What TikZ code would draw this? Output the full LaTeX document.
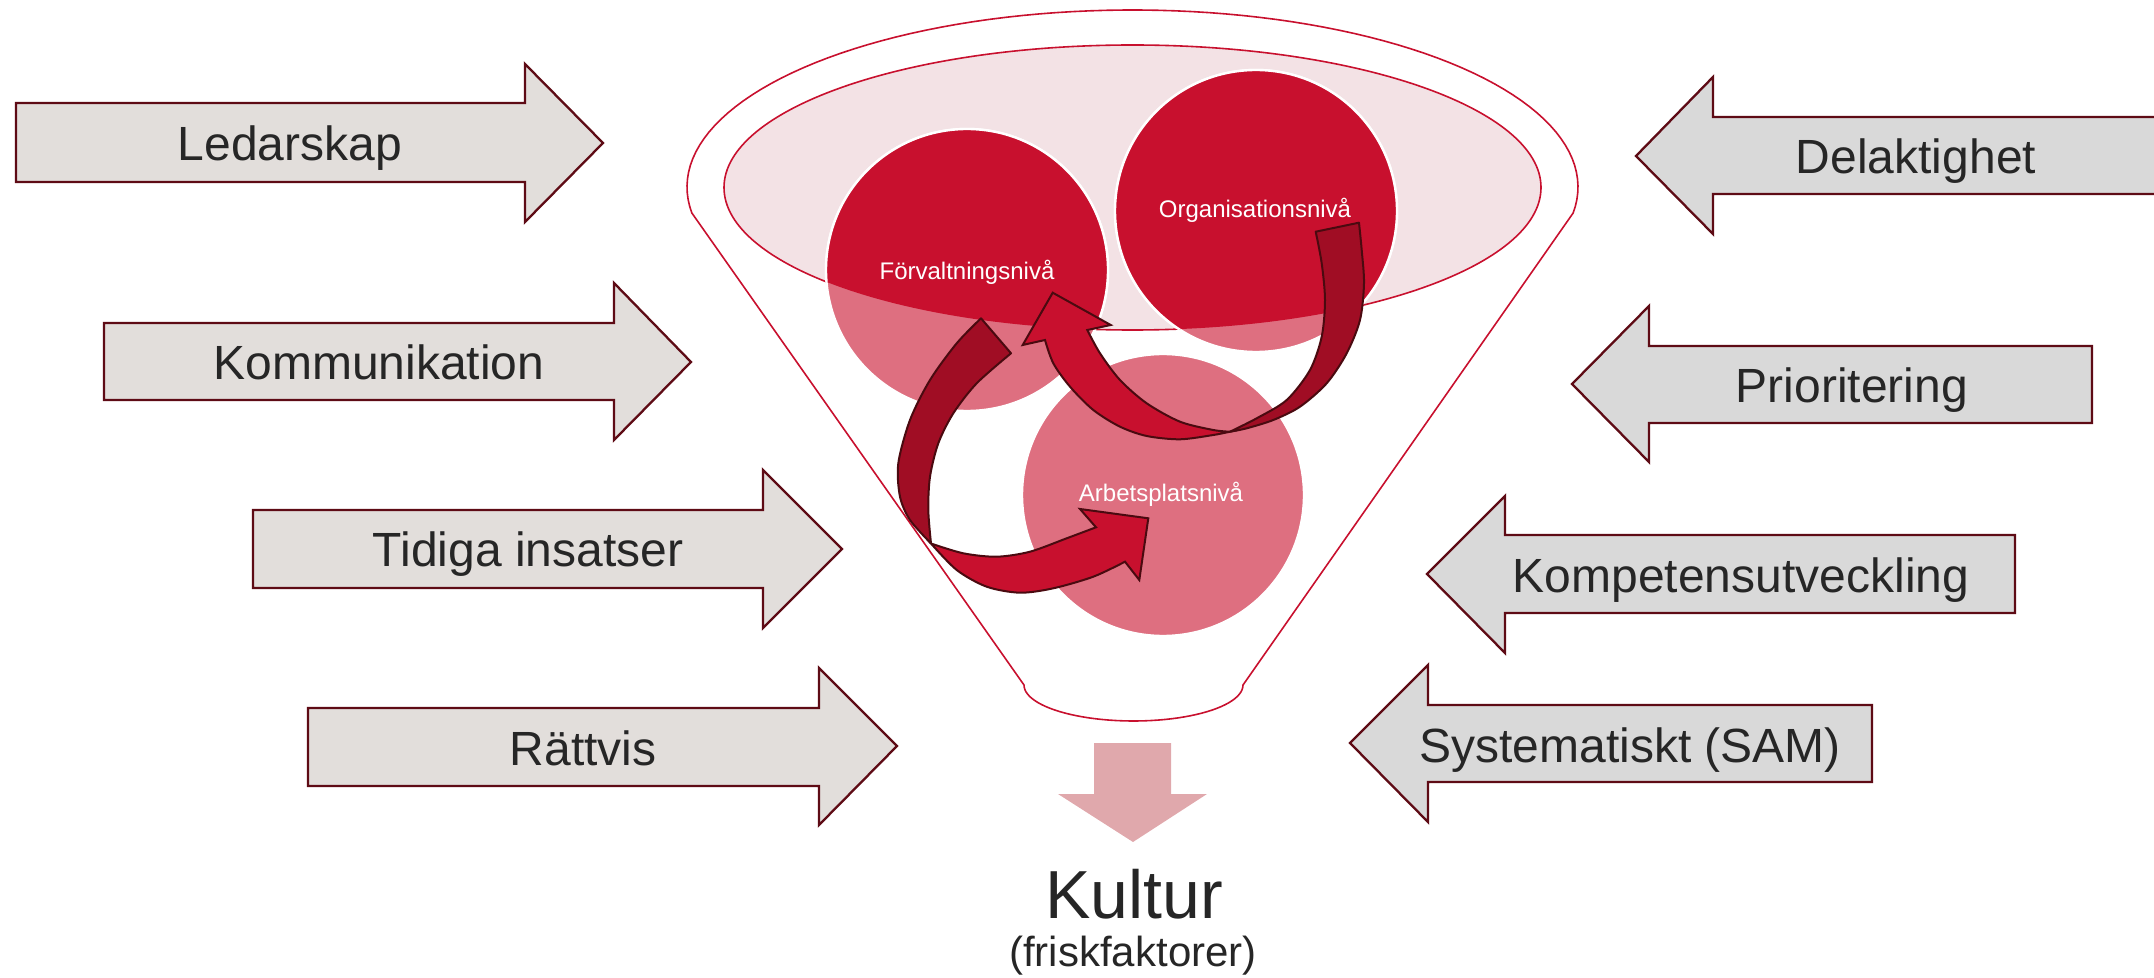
\documentclass[tikz,border=0pt]{standalone}
\usepackage{fontspec}
\setmainfont{Liberation Sans}
\definecolor{leftgray}{HTML}{E2DEDB}
\definecolor{rightgray}{HTML}{D9D9D9}
\definecolor{maroon}{HTML}{5E0B15}
\definecolor{redc}{HTML}{C8102E}
\definecolor{pinkc}{HTML}{DE6F80}
\definecolor{lightpink}{HTML}{F3E2E5}
\definecolor{darkred}{HTML}{A00D24}
\definecolor{arrowline}{HTML}{4A0A10}
\definecolor{txt}{HTML}{262626}
\definecolor{downpink}{HTML}{E0A8AC}
\begin{document}
\begin{tikzpicture}[x=0.5pt,y=-0.5pt,
  rbox/.style={fill=leftgray, draw=maroon, line width=1.15pt},
  lbox/.style={fill=rightgray, draw=maroon, line width=1.15pt},
  lbl/.style={text=txt, font=\fontsize{24}{28}\selectfont, anchor=base, inner sep=0pt},
  lvllbl/.style={text=white, font=\fontsize{12}{14}\selectfont, anchor=base, inner sep=0pt},
  lvl/.style={circle, minimum size=141pt, inner sep=0pt, fill=pinkc, draw=white, line width=1.2pt},
  funnelline/.style={draw=redc, line width=0.8pt},
  backband/.style={fill=darkred, draw=arrowline, line width=1pt, line join=round},
  frontband/.style={fill=redc, draw=arrowline, line width=1pt, line join=miter}]
\useasboundingbox (0,0) rectangle (2154,978);

% ---------- funnel ----------
\draw[funnelline] plot[domain=-8.45:188.45, samples=90] ({1132.5+445.5*cos(\x)},{187-177*sin(\x)})
  -- (1024,685)
  -- plot[domain=-180:0, samples=50] ({1133.5+109.5*cos(\x)},{685-36*sin(\x)})
  -- cycle;
\filldraw[funnelline, fill=lightpink] (1132.5,187.5) ellipse [x radius=204.25pt, y radius=71.25pt];

% ---------- level circles ----------
\node[lvl] (forv) at (967,270) {};
\node[lvl] (org) at (1256,211) {};
\node[lvl] (arb) at (1163,495) {};
\begin{scope}
  \clip (1132.5,187.5) ellipse [x radius=204.25pt, y radius=71.25pt];
  \filldraw[fill=redc, draw=white, line width=1.2pt] (forv.center) circle [radius=70.5pt];
  \filldraw[fill=redc, draw=white, line width=1.2pt] (org.center) circle [radius=70.5pt];
\end{scope}
\node[lvllbl] (forvl) at (967,280) {Förvaltningsnivå};
\node[lvllbl] (orgl) at (1255,218) {Organisationsnivå};
\node[lvllbl] (arbl) at (1161,502) {Arbetsplatsnivå};

% ---------- curved arrow 1 (Förvaltning -> Arbetsplats) ----------
\filldraw[backband] plot[smooth, tension=0.5] coordinates {(981,318.3) (956.7,343.3) (930,380) (910,420) (898.3,463.3) (900,496.7) (910,520) (931,543.5)}
  -- plot[smooth, tension=0.5] coordinates {(931,543.5) (928.3,510) (930,476.7) (938.3,443.3) (953.3,413.3) (976.7,383.3) (1011,353.3)}
  -- cycle;
\filldraw[frontband] plot[smooth, tension=0.5] coordinates {(931,543.5) (956.7,570) (986.7,586.7) (1020,592.7) (1053.3,588.3) (1093.3,576.7) (1125,561.7)}
  -- (1139.3,580) -- (1148.3,518.3) -- (1080,509) -- (1096,527.3)
  -- plot[smooth, tension=0.5] coordinates {(1096,527.3) (1066.7,538.3) (1030,551.7) (996.7,556.7) (963.3,553.3) (931,543.5)}
  -- cycle;

% ---------- curved arrow 2 (Organisation -> Förvaltning) ----------
\filldraw[backband] plot[smooth, tension=0.5] coordinates {(1359,222.7) (1361.7,250) (1364,283.3) (1360,320) (1346.7,353.3) (1326.7,383.3) (1300,406.7) (1273.3,420) (1246.7,428.3) (1230,431.7)}
  -- plot[smooth, tension=0.5] coordinates {(1230,431.7) (1256.7,418.3) (1286.7,400) (1310,370) (1321.7,336.7) (1325,300) (1321.7,263.3) (1315.7,231.7)}
  -- cycle;
\filldraw[frontband] plot[smooth, tension=0.5] coordinates {(1230,431.7) (1213.3,435) (1180,439.3) (1146.7,436) (1120,426.7) (1093.3,410) (1070,386.7) (1053.3,363.3) (1045,340)}
  -- (1022.7,345) -- (1052.7,292.7) -- (1110.7,325) -- (1087.3,330)
  -- plot[smooth, tension=0.5] coordinates {(1087.3,330) (1100,353.3) (1120,380) (1146.7,403.3) (1180,421.7) (1213.3,430) (1230,431.7)}
  -- cycle;

% ---------- left arrows ----------
\filldraw[rbox] (16,103) -- (525,103) -- (525,64) -- (603,143) -- (525,222) -- (525,182) -- (16,182) -- cycle;
\filldraw[rbox] (104,323) -- (614,323) -- (614,283) -- (691,362) -- (614,440) -- (614,400) -- (104,400) -- cycle;
\filldraw[rbox] (253,510) -- (763,510) -- (763,470) -- (842,549) -- (763,628) -- (763,588) -- (253,588) -- cycle;
\filldraw[rbox] (308,708) -- (819,708) -- (819,668) -- (897,746) -- (819,825) -- (819,786) -- (308,786) -- cycle;
\node[lbl] (led) at (290,161) {Ledarskap};
\node[lbl] (kom) at (379,380) {Kommunikation};
\node[lbl] (tid) at (528,567) {Tidiga insatser};
\node[lbl] (rat) at (583,765) {Rättvis};

% ---------- right arrows ----------
\begin{scope}
  \clip (0,0) rectangle (2154,978);
  \filldraw[lbox] (2175,117) -- (1713,117) -- (1713,77) -- (1636,156) -- (1713,234) -- (1713,194) -- (2175,194) -- cycle;
\end{scope}
\filldraw[lbox] (2092,346) -- (1649,346) -- (1649,306) -- (1572,384) -- (1649,462) -- (1649,423) -- (2092,423) -- cycle;
\filldraw[lbox] (2015,535) -- (1505,535) -- (1505,496) -- (1427,574) -- (1505,653) -- (1505,613) -- (2015,613) -- cycle;
\filldraw[lbox] (1872,705) -- (1428,705) -- (1428,665) -- (1350,743) -- (1428,822) -- (1428,782) -- (1872,782) -- cycle;
\node[lbl] (del) at (1916,174) {Delaktighet};
\node[lbl] (pri) at (1852,403) {Prioritering};
\node[lbl] (kmp) at (1741,593) {Kompetensutveckling};
\node[lbl] (sys) at (1630,762) {Systematiskt (SAM)};

% ---------- result ----------
\fill[downpink] (1094,743) -- (1171,743) -- (1171,794) -- (1207,794) -- (1133,842) -- (1058,794) -- (1094,794) -- cycle;
\node[text=txt, font=\fontsize{34}{40}\selectfont, anchor=base, inner sep=0pt] (kultur) at (1134,918) {Kultur};
\node[text=txt, font=\fontsize{21}{25}\selectfont, anchor=base, inner sep=0pt] (frisk) at (1133,966) {(friskfaktorer)};
\end{tikzpicture}
\end{document}
